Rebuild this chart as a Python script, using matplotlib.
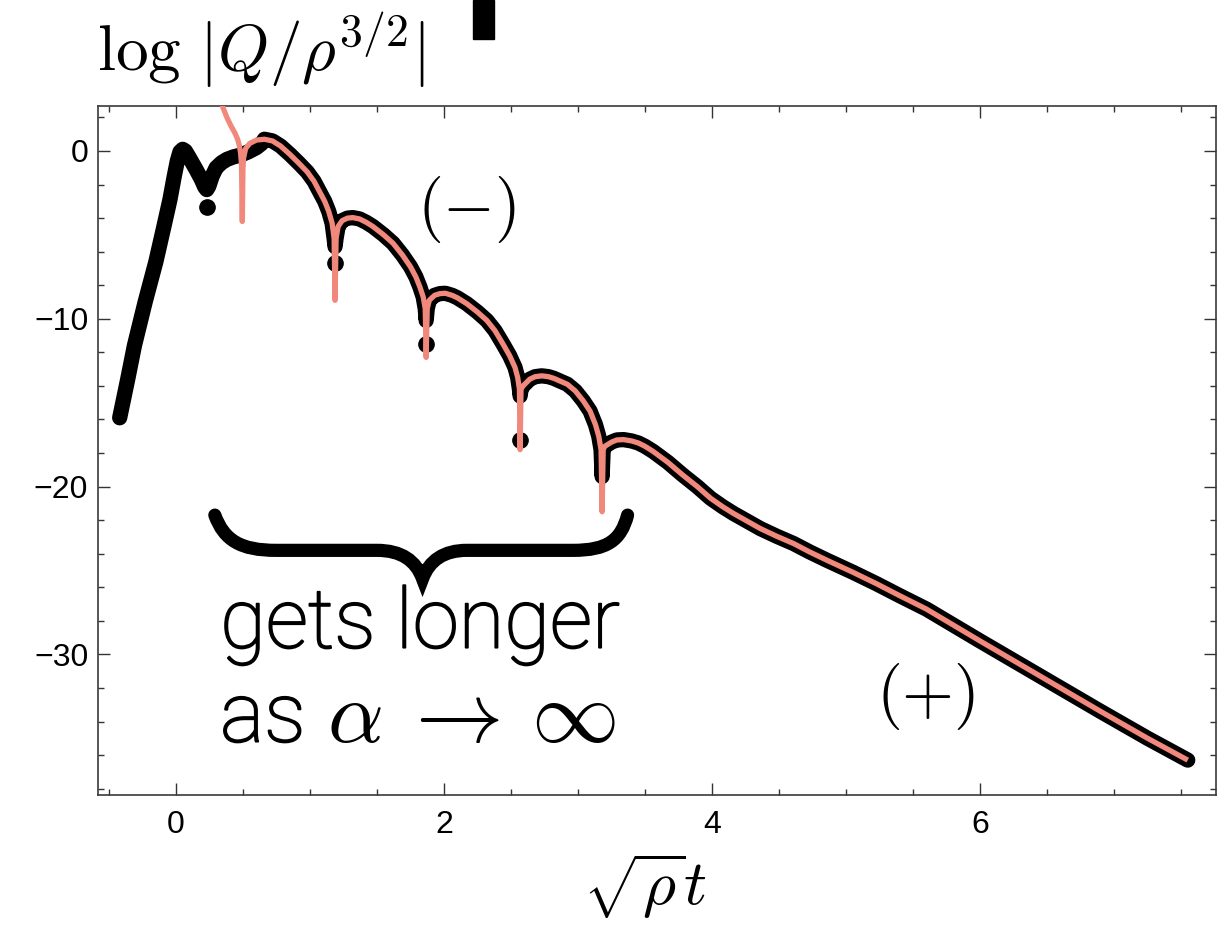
import matplotlib
matplotlib.use('Agg')
import numpy as np
import matplotlib.pyplot as plt
import matplotlib.patheffects as pe
from matplotlib.path import Path
from matplotlib.patches import PathPatch, Rectangle
from matplotlib.ticker import MultipleLocator

plt.rcParams['mathtext.fontset'] = 'cm'
plt.rcParams['font.family'] = ['Liberation Sans', 'DejaVu Sans']

# early part of the numerical solution, before it meets the asymptotic curve
t_early = [-0.42, -0.36, -0.31, -0.23, -0.15, -0.09, -0.045, -0.015, 0.01, 0.03, 0.05,
           0.07, 0.10, 0.15, 0.19, 0.215, 0.23, 0.245, 0.27, 0.30, 0.34, 0.38, 0.43,
           0.48, 0.54, 0.60, 0.64]
logq_early = [-15.9, -13.6, -11.6, -9.0, -6.6, -4.5, -2.9, -1.6, -0.6, -0.05, 0.1,
              0.0, -0.4, -1.1, -1.7, -2.15, -2.3, -2.1, -1.5, -1.0, -0.7, -0.5, -0.35,
              -0.25, -0.05, 0.2, 0.45]

# leading branch of the asymptotic curve, through its first zero
t_lead = [0.31, 0.33, 0.355, 0.38, 0.41, 0.44, 0.46, 0.472, 0.482, 0.489, 0.495, 0.50]
logq_lead = [4.2, 3.05, 2.5, 2.0, 1.5, 1.07, 0.7, 0.35, -0.1, -0.8, -4.2, -1.0]

# common envelope of both curves (arcs between the zeros, then the tail)
t_env = [0.505, 0.52, 0.55, 0.60, 0.66, 0.72, 0.78, 0.85, 0.92, 0.98, 1.03, 1.07,
         1.11, 1.14, 1.165, 1.18,
         1.195, 1.21, 1.24, 1.28, 1.32, 1.37, 1.42, 1.47, 1.55, 1.62, 1.69, 1.75,
         1.79, 1.82, 1.845, 1.86,
         1.875, 1.89, 1.93, 1.97, 2.01, 2.06, 2.10, 2.17, 2.25, 2.32, 2.38, 2.44,
         2.49, 2.53, 2.55, 2.563,
         2.575, 2.59, 2.64, 2.68, 2.73, 2.78, 2.82, 2.92, 2.98, 3.04, 3.09, 3.13,
         3.155, 3.172,
         3.188, 3.20, 3.25, 3.29, 3.34, 3.40, 3.45, 3.50, 3.56, 3.67, 3.78, 3.89,
         3.99, 4.08, 4.16, 4.26, 4.36, 4.48, 4.61, 4.73, 4.86, 5.05, 5.23, 5.40,
         5.60, 6.00, 6.45, 6.90, 7.25, 7.55]
logq_env = [-0.4, 0.15, 0.45, 0.65, 0.7, 0.6, 0.3, -0.2, -0.75, -1.25, -1.8, -2.4,
            -3.0, -3.6, -4.3, -5.2,
            -5.2, -4.5, -4.15, -4.0, -3.97, -4.05, -4.25, -4.5, -5.0, -5.5, -6.2, -6.9,
            -7.5, -8.1, -8.7, -9.4,
            -9.4, -8.9, -8.6, -8.5, -8.48, -8.6, -8.75, -9.1, -9.6, -10.1, -10.7, -11.5,
            -12.2, -12.9, -13.5, -14.2,
            -14.2, -14.0, -13.6, -13.45, -13.4, -13.45, -13.55, -13.9, -14.3, -14.9, -15.5, -16.3,
            -17.0, -17.8,
            -17.8, -17.6, -17.35, -17.22, -17.2, -17.28, -17.4, -17.6, -17.9, -18.55, -19.3, -20.0,
            -20.7, -21.2, -21.6, -22.05, -22.5, -22.95, -23.4, -23.9, -24.4, -25.1, -25.8, -26.5,
            -27.3, -29.2, -31.3, -33.4, -35.0, -36.3]

# bottoms of the dips at the zeros
t_dip = [1.187, 1.867, 2.568, 3.18]
logq_dip_num = [-5.7, -10.1, -14.6, -19.4]
logq_dip_asym = [-8.9, -12.3, -17.8, -21.5]

# stray numerical points below the dips
t_dot = [0.23, 1.187, 1.867, 2.568]
logq_dot = [-3.35, -6.7, -11.5, -17.2]

xticks = [0, 2, 4, 6]
yticks = [0, -10, -20, -30]


def merge(*pairs):
    t = np.concatenate([p[0] for p in pairs])
    y = np.concatenate([p[1] for p in pairs])
    order = np.argsort(t, kind='stable')
    return t[order], y[order]


env_t = np.array(t_env)
env_y = np.array(logq_env)
late = env_t >= 0.66
t_num, logq_num = merge((t_early, logq_early), (env_t[late], env_y[late]),
                        (t_dip, logq_dip_num))
t_asym, logq_asym = merge((t_lead, logq_lead), (env_t, env_y),
                          (t_dip, logq_dip_asym))

fig = plt.figure(figsize=(12.17, 9.32), dpi=100)
ax = fig.add_axes([0.0805, 0.147, 0.9187, 0.7396])

ax.plot(t_num, logq_num, color='black', lw=11, solid_capstyle='round',
        solid_joinstyle='round', zorder=2)
ax.plot(t_dot, logq_dot, 'o', color='black', ms=11, zorder=2)
ax.plot(t_asym, logq_asym, color='#F0887C', lw=3.8, solid_capstyle='butt',
        solid_joinstyle='round', zorder=3)

ax.set_xlim(-0.582, 7.761)
ax.set_ylim(-38.38, 2.70)
ax.set_xticks(xticks)
ax.set_yticks(yticks)
ax.xaxis.set_minor_locator(MultipleLocator(0.5))
ax.yaxis.set_minor_locator(MultipleLocator(2))
ax.tick_params(which='both', direction='in', top=True, right=True, colors='#333333',
               labelcolor='black', width=1)
ax.tick_params(which='major', length=8.5)
ax.tick_params(which='minor', length=4.5)
ax.tick_params(axis='x', labelsize=23, pad=11)
ax.tick_params(axis='y', labelsize=23, pad=7)
for sp in ax.spines.values():
    sp.set_color('#3a3a3a')
    sp.set_linewidth(1.2)

# brace under the oscillating region
brace = Path(
    [(0.29, -21.7), (0.36, -23.2), (0.48, -23.8), (0.75, -23.8),
     (1.50, -23.8),
     (1.68, -23.8), (1.79, -24.4), (1.84, -25.5),
     (1.89, -24.4), (2.00, -23.8), (2.17, -23.8),
     (2.96, -23.8),
     (3.22, -23.8), (3.32, -23.2), (3.37, -21.7)],
    [Path.MOVETO, Path.CURVE4, Path.CURVE4, Path.CURVE4,
     Path.LINETO,
     Path.CURVE4, Path.CURVE4, Path.CURVE4,
     Path.CURVE4, Path.CURVE4, Path.CURVE4,
     Path.LINETO,
     Path.CURVE4, Path.CURVE4, Path.CURVE4])
ax.add_patch(PathPatch(brace, facecolor='none', edgecolor='black', lw=9.5,
                       capstyle='round', joinstyle='miter', zorder=4))

# light sans note, slightly thickened
note_fx = [pe.withStroke(linewidth=1.3, foreground='black')]
ax.text(0.33, -29.6, 'gets longer', fontsize=60, family=['Roboto', 'DejaVu Sans'],
        fontweight='light', ha='left', va='baseline', path_effects=note_fx)
ax.text(0.33, -35.2, 'as', fontsize=60, family=['Roboto', 'DejaVu Sans'],
        fontweight='light', ha='left', va='baseline', path_effects=note_fx)
ax.text(1.127, -35.2, r'$\alpha\:\rightarrow\,\infty$', fontsize=63,
        ha='left', va='baseline')
ax.text(2.17, -3.46, r'$(-)$', fontsize=48, ha='center', va='center')
ax.text(5.59, -32.5, r'$(+)$', fontsize=48, ha='center', va='center')

fig.text(97 / 1217, 1 - 71 / 932, r'$\log\,|Q/\rho^{3/2}|$', fontsize=47,
         ha='left', va='baseline')
fig.text(645 / 1217, 1 - 906 / 932, r'$\sqrt{\rho}t$', fontsize=46,
         ha='center', va='baseline')
fig.patches.append(Rectangle((473 / 1217, 1 - 39 / 932), 21 / 1217, 39 / 932,
                             transform=fig.transFigure, color='black'))

fig.savefig('out.png', dpi=100)
